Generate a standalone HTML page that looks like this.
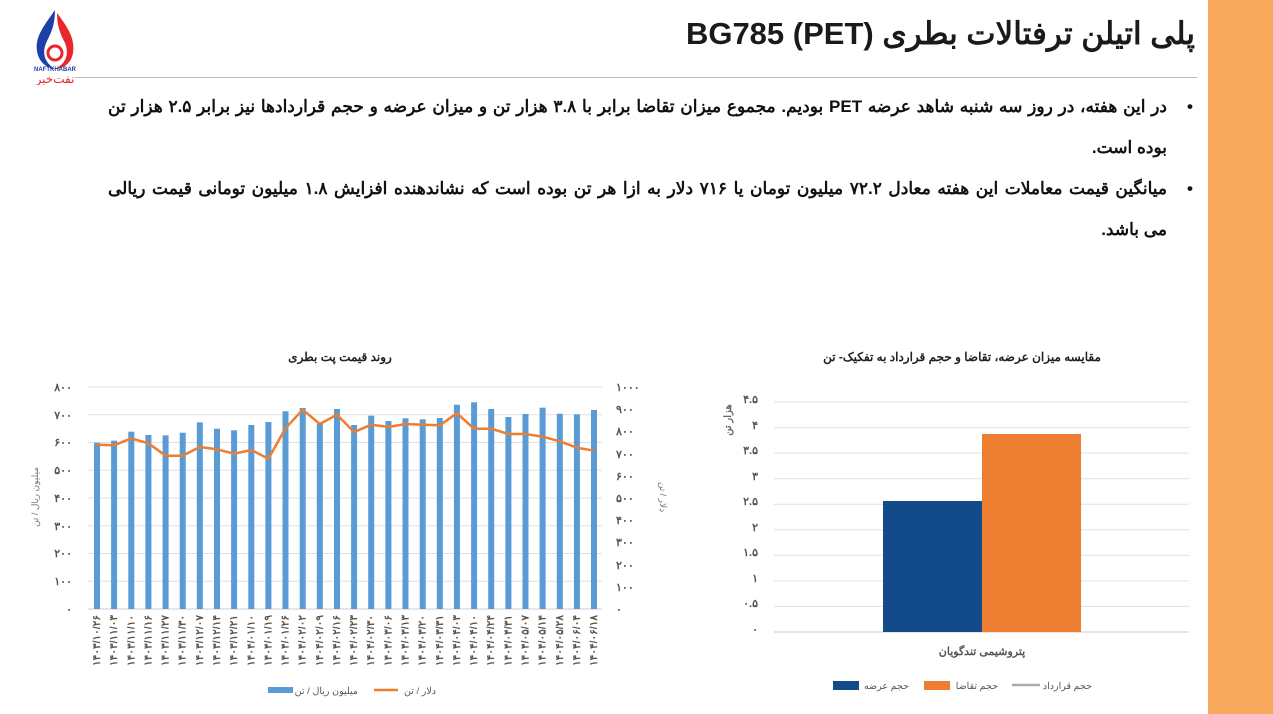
<!DOCTYPE html>
<html><head><meta charset="utf-8"><style>
body{margin:0;width:1273px;height:714px;background:#fff;overflow:hidden;position:relative;font-family:"Liberation Sans","Noto Sans CJK SC",sans-serif}
.side{position:absolute;left:1208px;top:0;width:65px;height:714px;background:#f9a95c}
.title{position:absolute;right:78px;top:16px;font-size:31px;font-weight:bold;color:#1a1a1a;direction:rtl;white-space:nowrap}
.hr{position:absolute;left:75px;top:77px;width:1122px;height:1px;background:#bbb}
.txt{position:absolute;left:108px;width:1059px;top:86px;direction:rtl;font-size:17px;line-height:41px;color:#111;font-weight:bold}
.txt div{white-space:nowrap;text-align:justify;text-align-last:justify;position:relative}
.txt div.l{text-align-last:right}
.txt div.b:before{content:"•";position:absolute;right:-26px;top:0}
</style></head><body>
<div class="side"></div>
<svg style="position:absolute;left:25px;top:5px" width="60" height="80" viewBox="0 0 60 80">
<path d="M30 5 C18 22 10 32 12 46 C14 60 26 64 30 64 C20 58 16 48 22 36 C26 28 30 20 30 5Z" fill="#1f3fa8"/>
<path d="M32 8 C44 24 50 34 48 48 C46 60 36 64 30 64 C42 58 44 48 40 38 C36 30 32 22 32 8Z" fill="#e8262b"/>
<circle cx="30" cy="48" r="7" fill="none" stroke="#e8262b" stroke-width="3"/>
<text x="30" y="66" font-size="6" text-anchor="middle" fill="#1f3fa8" font-weight="bold">NAFTKHABAR</text>
<text x="30" y="78" font-size="12" text-anchor="middle" fill="#e8262b" font-family="Noto Sans CJK SC">نفت‌خبر</text>
</svg>
<div class="title">پلی اتیلن ترفتالات بطری BG785 (PET)</div>
<div class="hr"></div>
<div class="txt">
<div class="b">در این هفته، در روز سه شنبه شاهد عرضه PET بودیم. مجموع میزان تقاضا برابر با ۳.۸ هزار تن و میزان عرضه و حجم قراردادها نیز برابر ۲.۵ هزار تن</div>
<div class="l">بوده است.</div>
<div class="b">میانگین قیمت معاملات این هفته معادل ۷۲.۲ میلیون تومان یا ۷۱۶ دلار به ازا هر تن بوده است که نشاندهنده افزایش ۱.۸ میلیون تومانی قیمت ریالی</div>
<div class="l">می باشد.</div>
</div>
<svg style="position:absolute;left:0;top:0" width="1273" height="714" font-family="Liberation Sans, Noto Sans CJK SC, sans-serif">
<text x="340" y="361" font-size="12" font-weight="bold" text-anchor="middle" fill="#222">روند قیمت پت بطری</text>
<g stroke="#e0e0e0" stroke-width="1">
<line x1="88" x2="602" y1="387" y2="387"/><line x1="88" x2="602" y1="414.75" y2="414.75"/><line x1="88" x2="602" y1="442.5" y2="442.5"/><line x1="88" x2="602" y1="470.25" y2="470.25"/><line x1="88" x2="602" y1="498" y2="498"/><line x1="88" x2="602" y1="525.75" y2="525.75"/><line x1="88" x2="602" y1="553.5" y2="553.5"/><line x1="88" x2="602" y1="581.25" y2="581.25"/><line x1="88" x2="602" y1="609" y2="609" stroke="#ccc"/>
</g>
<g font-size="11" fill="#555" text-anchor="end" font-weight="bold">
<text x="72" y="391">۸۰۰</text><text x="72" y="419">۷۰۰</text><text x="72" y="446">۶۰۰</text><text x="72" y="474">۵۰۰</text><text x="72" y="502">۴۰۰</text><text x="72" y="530">۳۰۰</text><text x="72" y="557">۲۰۰</text><text x="72" y="585">۱۰۰</text><text x="72" y="613">۰</text>
</g>
<g font-size="11" fill="#555" text-anchor="start" font-weight="bold">
<text x="616" y="391">۱۰۰۰</text><text x="616" y="413">۹۰۰</text><text x="616" y="435">۸۰۰</text><text x="616" y="458">۷۰۰</text><text x="616" y="480">۶۰۰</text><text x="616" y="502">۵۰۰</text><text x="616" y="524">۴۰۰</text><text x="616" y="546">۳۰۰</text><text x="616" y="569">۲۰۰</text><text x="616" y="591">۱۰۰</text><text x="616" y="613">۰</text>
</g>
<text transform="translate(660,497) rotate(90)" font-size="9" fill="#777" text-anchor="middle">دلار / تن</text>
<text transform="translate(38,497) rotate(-90)" font-size="9" fill="#777" text-anchor="middle">میلیون ریال / تن</text>
<g fill="#5b9bd5">
<rect x="94" y="442.7" width="6" height="166.3"/><rect x="111.1" y="440.7" width="6" height="168.3"/><rect x="128.3" y="431.7" width="6" height="177.3"/><rect x="145.4" y="435" width="6" height="174"/><rect x="162.6" y="435.3" width="6" height="173.7"/><rect x="179.7" y="432.7" width="6" height="176.3"/><rect x="196.8" y="422.3" width="6" height="186.7"/><rect x="214" y="428.7" width="6" height="180.3"/><rect x="231.1" y="430.3" width="6" height="178.7"/><rect x="248.3" y="425" width="6" height="184"/><rect x="265.4" y="422" width="6" height="187"/><rect x="282.5" y="411.3" width="6" height="197.7"/><rect x="299.7" y="408" width="6" height="201"/><rect x="316.8" y="424" width="6" height="185"/><rect x="334" y="409" width="6" height="200"/><rect x="351.1" y="425" width="6" height="184"/><rect x="368.2" y="415.7" width="6" height="193.3"/><rect x="385.4" y="421" width="6" height="188"/><rect x="402.5" y="418.3" width="6" height="190.7"/><rect x="419.7" y="419.3" width="6" height="189.7"/><rect x="436.8" y="418" width="6" height="191"/><rect x="453.9" y="404.7" width="6" height="204.3"/><rect x="471.1" y="402.3" width="6" height="206.7"/><rect x="488.2" y="409" width="6" height="200"/><rect x="505.4" y="417" width="6" height="192"/><rect x="522.5" y="414" width="6" height="195"/><rect x="539.6" y="407.7" width="6" height="201.3"/><rect x="556.8" y="413.7" width="6" height="195.3"/><rect x="573.9" y="414.3" width="6" height="194.7"/><rect x="591" y="410" width="6" height="199"/>
</g>
<polyline fill="none" stroke="#ed7d31" stroke-width="2.5" stroke-linejoin="round" points="97,444.7 114.1,445.3 131.3,438.3 148.4,443.3 165.6,455.7 182.7,455.7 199.8,447 217,449.3 234.1,453.7 251.3,450 268.4,458.7 285.5,428.3 302.7,409.7 319.8,424 337,414.7 354.1,432 371.2,424.7 388.4,427 405.5,424 422.7,424.7 439.8,425.3 456.9,413.3 474.1,428.7 491.2,428.7 508.4,434 525.5,434 542.6,436.7 559.8,441.3 576.9,447.7 594,450.7"/>
<g font-size="10.5" fill="#555" text-anchor="end" font-weight="bold">
<text transform="translate(100,615) rotate(-90)">۱۴۰۳/۱۰/۲۶</text><text transform="translate(117.1,615) rotate(-90)">۱۴۰۳/۱۱/۰۳</text><text transform="translate(134.3,615) rotate(-90)">۱۴۰۳/۱۱/۱۰</text><text transform="translate(151.4,615) rotate(-90)">۱۴۰۳/۱۱/۱۶</text><text transform="translate(168.6,615) rotate(-90)">۱۴۰۳/۱۱/۲۷</text><text transform="translate(185.7,615) rotate(-90)">۱۴۰۳/۱۱/۳۰</text><text transform="translate(202.8,615) rotate(-90)">۱۴۰۳/۱۲/۰۷</text><text transform="translate(220,615) rotate(-90)">۱۴۰۳/۱۲/۱۴</text><text transform="translate(237.1,615) rotate(-90)">۱۴۰۳/۱۲/۲۱</text><text transform="translate(254.3,615) rotate(-90)">۱۴۰۴/۰۱/۱۰</text><text transform="translate(271.4,615) rotate(-90)">۱۴۰۴/۰۱/۱۹</text><text transform="translate(288.5,615) rotate(-90)">۱۴۰۴/۰۱/۲۶</text><text transform="translate(305.7,615) rotate(-90)">۱۴۰۴/۰۲/۰۲</text><text transform="translate(322.8,615) rotate(-90)">۱۴۰۴/۰۲/۰۹</text><text transform="translate(340,615) rotate(-90)">۱۴۰۴/۰۲/۱۶</text><text transform="translate(357.1,615) rotate(-90)">۱۴۰۴/۰۲/۲۳</text><text transform="translate(374.2,615) rotate(-90)">۱۴۰۴/۰۲/۳۰</text><text transform="translate(391.4,615) rotate(-90)">۱۴۰۴/۰۳/۰۶</text><text transform="translate(408.5,615) rotate(-90)">۱۴۰۴/۰۳/۱۳</text><text transform="translate(425.7,615) rotate(-90)">۱۴۰۴/۰۳/۲۰</text><text transform="translate(442.8,615) rotate(-90)">۱۴۰۴/۰۳/۳۱</text><text transform="translate(459.9,615) rotate(-90)">۱۴۰۴/۰۴/۰۳</text><text transform="translate(477.1,615) rotate(-90)">۱۴۰۴/۰۴/۱۰</text><text transform="translate(494.2,615) rotate(-90)">۱۴۰۴/۰۴/۲۴</text><text transform="translate(511.4,615) rotate(-90)">۱۴۰۴/۰۴/۳۱</text><text transform="translate(528.5,615) rotate(-90)">۱۴۰۴/۰۵/۰۷</text><text transform="translate(545.6,615) rotate(-90)">۱۴۰۴/۰۵/۱۴</text><text transform="translate(562.8,615) rotate(-90)">۱۴۰۴/۰۵/۲۸</text><text transform="translate(579.9,615) rotate(-90)">۱۴۰۴/۰۶/۰۴</text><text transform="translate(597,615) rotate(-90)">۱۴۰۴/۰۶/۱۸</text>
</g>
<rect x="268" y="687" width="25" height="6" fill="#5b9bd5"/>
<text x="358" y="694" font-size="9.5" fill="#555" text-anchor="end">میلیون ریال / تن</text>
<line x1="374" x2="398" y1="690" y2="690" stroke="#ed7d31" stroke-width="2.5"/>
<text x="436" y="694" font-size="9.5" fill="#555" text-anchor="end">دلار / تن</text>

<text x="962" y="361" font-size="12" font-weight="bold" text-anchor="middle" fill="#222">مقایسه میزان عرضه، تقاضا و حجم قرارداد به تفکیک-  تن</text>
<g stroke="#e0e0e0" stroke-width="1">
<line x1="774" x2="1189" y1="402" y2="402"/><line x1="774" x2="1189" y1="427.6" y2="427.6"/><line x1="774" x2="1189" y1="453.1" y2="453.1"/><line x1="774" x2="1189" y1="478.7" y2="478.7"/><line x1="774" x2="1189" y1="504.2" y2="504.2"/><line x1="774" x2="1189" y1="529.8" y2="529.8"/><line x1="774" x2="1189" y1="555.3" y2="555.3"/><line x1="774" x2="1189" y1="580.9" y2="580.9"/><line x1="774" x2="1189" y1="606.4" y2="606.4"/><line x1="774" x2="1189" y1="632" y2="632" stroke="#ccc"/>
</g>
<g font-size="11" fill="#555" text-anchor="end" font-weight="bold">
<text x="758" y="403">۴.۵</text><text x="758" y="429">۴</text><text x="758" y="454">۳.۵</text><text x="758" y="480">۳</text><text x="758" y="505">۲.۵</text><text x="758" y="531">۲</text><text x="758" y="556">۱.۵</text><text x="758" y="582">۱</text><text x="758" y="607">۰.۵</text><text x="758" y="633">۰</text>
</g>
<text transform="translate(731,420) rotate(-90)" font-size="10" font-weight="bold" fill="#666" text-anchor="middle">هزار تن</text>
<rect x="883" y="501" width="99" height="131" fill="#124a8a"/>
<rect x="982" y="434" width="99" height="198" fill="#ed7d31"/>
<text x="982" y="655" font-size="11" fill="#555" text-anchor="middle" font-weight="bold">پتروشیمی تندگویان</text>
<rect x="833" y="681" width="26" height="9" fill="#124a8a"/>
<text x="909" y="689" font-size="9.5" fill="#555" text-anchor="end">حجم عرضه</text>
<rect x="924" y="681" width="26" height="9" fill="#ed7d31"/>
<text x="998" y="689" font-size="9.5" fill="#555" text-anchor="end">حجم تقاضا</text>
<line x1="1012" x2="1040" y1="685" y2="685" stroke="#aaa" stroke-width="2.5"/>
<text x="1092" y="689" font-size="9.5" fill="#555" text-anchor="end">حجم قرارداد</text>
</svg>
</body></html>
